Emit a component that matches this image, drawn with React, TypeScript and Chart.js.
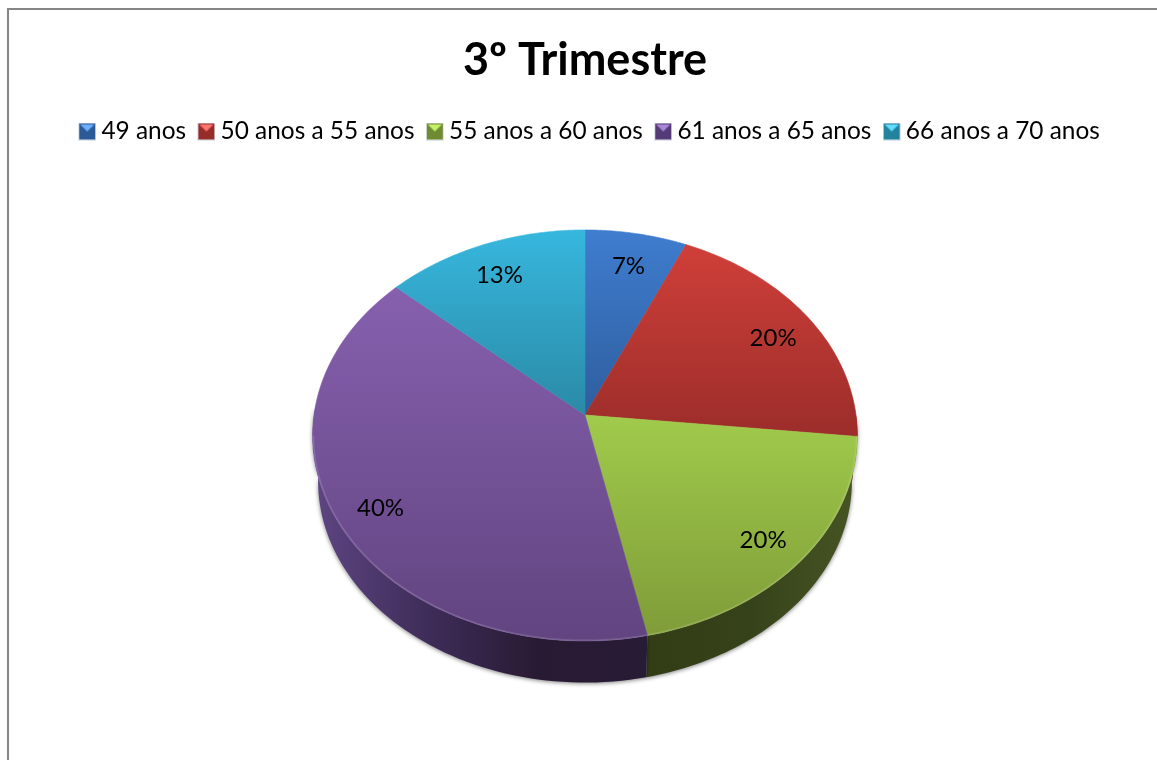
import React, { useEffect, useRef } from "react";
import { Chart, registerables } from "chart.js";

Chart.register(...registerables);

const categories = ["49 anos", "50 anos a 55 anos", "55 anos a 60 anos", "61 anos a 65 anos", "66 anos a 70 anos"];
const counts = [1, 3, 3, 6, 2];
const chartTitle = "3º Trimestre";

const baseColors = ["#4079c8", "#c9403b", "#9bc348", "#8060a8", "#35b0d6"];
const faceTop = ["#3f7dcf", "#d03f39", "#a0cb4b", "#8660ae", "#37b7de"];
const faceBottom = ["#2e5e9e", "#9b2d2a", "#7f9c39", "#614480", "#2a8aa6"];
const sideStops: string[][] = [
  ["#1f3f6b", "#1f3f6b"],
  ["#5a1c1a", "#5a1c1a"],
  ["#333d15", "#36421a", "#465423"],
  ["#5c4480", "#3e2c58", "#291a33", "#271b35"],
  ["#1c5c70", "#1c5c70"],
];
const legendDark = ["#2c5a97", "#962b29", "#6f8a30", "#553a78", "#23829e"];
const legendLight = ["#6cb0ff", "#ff7670", "#c6f06a", "#a985dc", "#62dcff"];

const FONT = "Lato, Carlito, Calibri, sans-serif";
const PERSPECTIVE = 0.0998;
const FLATTEN = 0.751;
const TOP_Y = 415;
const BOTTOM_Y = 461;
const BOTTOM_SCALE = 0.98;
const LABEL_R = 0.835;
const LABEL_DY = 5;
const LEGEND_SHIFT = 7.5;

function project(cx: number, cy: number, rx: number, ry: number, a: number, r: number) {
  const w = 1 - PERSPECTIVE * r * Math.sin(a);
  return [cx + (rx * r * Math.cos(a)) / w, cy + (ry * r * Math.sin(a)) / w];
}

function legendIcon(i: number) {
  const c = document.createElement("canvas");
  c.width = 18;
  c.height = 18;
  const g = c.getContext("2d")!;
  g.fillStyle = "#dfe6ee";
  g.fillRect(0, 0, 18, 18);
  g.fillStyle = legendDark[i];
  g.fillRect(1, 1, 16, 16);
  g.fillStyle = legendLight[i];
  g.beginPath();
  g.moveTo(2, 2);
  g.lineTo(16, 2);
  g.lineTo(9, 9);
  g.closePath();
  g.fill();
  return c;
}

const frame = {
  id: "frame",
  afterLayout(chart: any) {
    chart.legend.left += LEGEND_SHIFT;
    chart.legend.right += LEGEND_SHIFT;
  },
  beforeDraw(chart: any) {
    const { ctx, width, height } = chart;
    ctx.save();
    ctx.fillStyle = "#ffffff";
    ctx.fillRect(0, 0, width, height);
    ctx.fillStyle = "#868686";
    ctx.fillRect(7, 8, width - 7, 2);
    ctx.fillRect(7, 8, 2, height - 8);
    ctx.restore();
  },
};

const pie3d = {
  id: "pie3d",
  beforeDatasetsDraw(chart: any) {
    const { ctx } = chart;
    const arcs = chart.getDatasetMeta(0).data;
    const first = arcs[0];
    const cx = first.x;
    const rx = first.outerRadius;
    const ry = rx * FLATTEN;
    const rb = rx * BOTTOM_SCALE;
    const ryb = ry * BOTTOM_SCALE;
    const steps = 64;

    ctx.save();
    arcs.forEach((arc: any, i: number) => {
      const s = Math.max(arc.startAngle, 0);
      const e = Math.min(arc.endAngle, Math.PI + 0.04);
      if (e <= s) return;
      ctx.beginPath();
      for (let k = 0; k <= steps; k++) {
        const a = s + ((e - s) * k) / steps;
        const [x, y] = project(cx, TOP_Y, rx, ry, a, 1);
        k ? ctx.lineTo(x, y) : ctx.moveTo(x, y);
      }
      for (let k = steps; k >= 0; k--) {
        const a = s + ((e - s) * k) / steps;
        const [x, y] = project(cx, BOTTOM_Y, rb, ryb, a, 1);
        ctx.lineTo(x, y);
      }
      ctx.closePath();
      const x0 = project(cx, BOTTOM_Y, rb, ryb, e, 1)[0];
      const x1 = project(cx, BOTTOM_Y, rb, ryb, s, 1)[0];
      const g = ctx.createLinearGradient(Math.min(x0, x1), 0, Math.max(x0, x1), 0);
      const stops = sideStops[i];
      stops.forEach((c, n) => g.addColorStop(n / (stops.length - 1), c));
      ctx.shadowColor = "rgba(0,0,0,0.5)";
      ctx.shadowBlur = 4;
      ctx.shadowOffsetY = 1;
      ctx.shadowOffsetX = 0;
      ctx.fillStyle = g;
      ctx.fill();
    });
    ctx.shadowColor = "transparent";

    arcs.forEach((arc: any, i: number) => {
      const s = arc.startAngle;
      const e = arc.endAngle;
      let minY = TOP_Y;
      let maxY = TOP_Y;
      const pts: number[][] = [];
      for (let k = 0; k <= steps; k++) {
        const p = project(cx, TOP_Y, rx, ry, s + ((e - s) * k) / steps, 1);
        pts.push(p);
        minY = Math.min(minY, p[1]);
        maxY = Math.max(maxY, p[1]);
      }
      ctx.beginPath();
      ctx.moveTo(cx, TOP_Y);
      pts.forEach((p) => ctx.lineTo(p[0], p[1]));
      ctx.closePath();
      const g = ctx.createLinearGradient(0, minY, 0, maxY);
      g.addColorStop(0, faceTop[i]);
      g.addColorStop(1, faceBottom[i]);
      ctx.fillStyle = g;
      ctx.fill();
      ctx.strokeStyle = g;
      ctx.lineWidth = 0.6;
      ctx.stroke();
    });

    // light bevel along the front edge of the top face
    arcs.forEach((arc: any) => {
      const s = Math.max(arc.startAngle, 0.1);
      const e = Math.min(arc.endAngle, Math.PI - 0.1);
      if (e <= s) return;
      ctx.beginPath();
      for (let k = 0; k <= steps; k++) {
        const [x, y] = project(cx, TOP_Y, rx, ry, s + ((e - s) * k) / steps, 0.997);
        k ? ctx.lineTo(x, y) : ctx.moveTo(x, y);
      }
      ctx.strokeStyle = "rgba(255,255,255,0.14)";
      ctx.lineWidth = 1.5;
      ctx.stroke();
    });

    const total = counts.reduce((a, b) => a + b, 0);
    ctx.fillStyle = "#000000";
    ctx.font = `24px ${FONT}`;
    ctx.textAlign = "center";
    ctx.textBaseline = "middle";
    arcs.forEach((arc: any, i: number) => {
      const mid = (arc.startAngle + arc.endAngle) / 2;
      const [x, y] = project(cx, TOP_Y, rx, ry, mid, LABEL_R);
      ctx.fillText(`${Math.round((counts[i] / total) * 100)}%`, x, y + LABEL_DY);
    });
    ctx.restore();
    return false;
  },
};

export default function App() {
  const ref = useRef<HTMLCanvasElement | null>(null);
  useEffect(() => {
    document.body.style.margin = "0";
    document.body.style.overflow = "hidden";
    const icons = categories.map((_, i) => legendIcon(i));
    const chart = new Chart(ref.current!, {
      type: "pie",
      data: {
        labels: categories,
        datasets: [{ data: counts, backgroundColor: baseColors, borderWidth: 0, radius: 271 } as any],
      },
      plugins: [frame, pie3d],
      options: {
        responsive: false,
        animation: false,
        layout: { padding: { left: 13 } },
        plugins: {
          tooltip: { enabled: false },
          title: {
            display: true,
            text: chartTitle,
            color: "#000000",
            font: { family: FONT, size: 45, weight: "bold" },
            padding: { top: 33, bottom: 14 },
          },
          legend: {
            position: "top",
            labels: {
              usePointStyle: true,
              pointStyleWidth: 4,
              boxHeight: 18,
              padding: 18.3,
              color: "#000000",
              font: { family: FONT, size: 24.4 },
              generateLabels: () =>
                categories.map((text, i) => ({
                  text,
                  fillStyle: baseColors[i],
                  strokeStyle: baseColors[i],
                  lineWidth: 0,
                  pointStyle: icons[i],
                  index: i,
                  hidden: false,
                })),
            },
          },
        },
      } as any,
    });
    return () => chart.destroy();
  }, []);
  return <canvas ref={ref} width={1157} height={760} style={{ display: "block" }} />;
}
